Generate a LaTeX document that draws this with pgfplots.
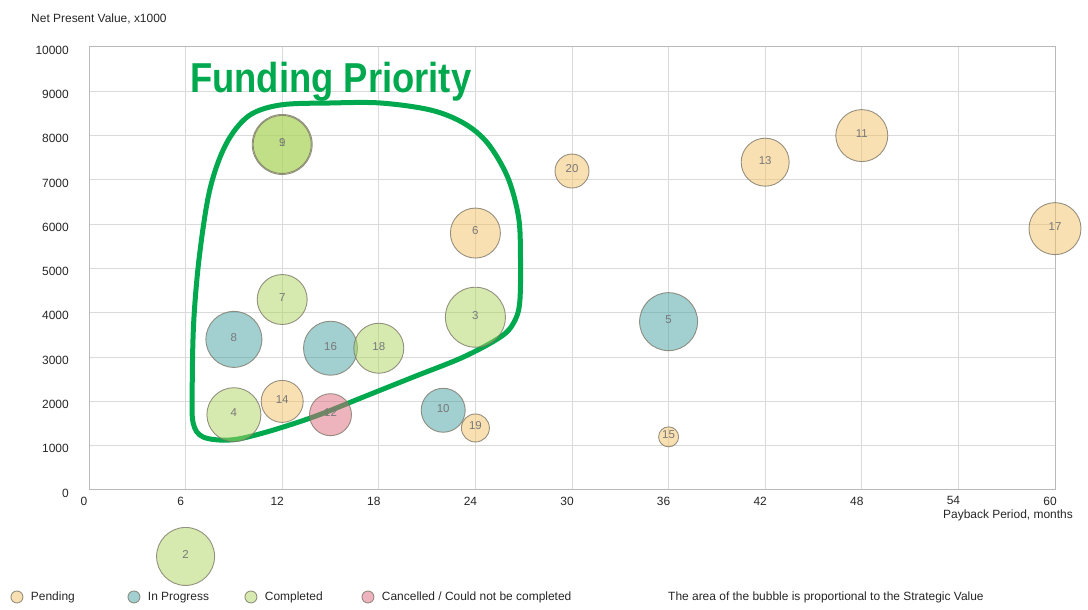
\documentclass[border=0pt]{standalone}
\usepackage{pgfplots}
\pgfplotsset{compat=1.18}
\usepackage{graphicx}
\usepackage{fontspec}
\setmainfont{Liberation Sans}

\definecolor{pendingC}{RGB}{243,193,101}
\definecolor{progressC}{RGB}{69,159,161}
\definecolor{completedC}{RGB}{173,213,95}
\definecolor{cancelledC}{RGB}{221,105,125}
\definecolor{edgeC}{RGB}{125,120,105}
\definecolor{gridC}{RGB}{218,218,218}
\definecolor{numC}{RGB}{120,120,120}
\definecolor{fundC}{RGB}{0,168,78}

% One bubble per project: (payback months, NPV x1000) [project number];
% the mark size (radius) encodes the strategic value.
\pgfplotsset{
  bubble/.style={
    only marks, mark=*, forget plot,
    mark options={draw=edgeC, draw opacity=0.8, line width=0.9bp, fill=#1, fill opacity=0.5},
    point meta=explicit symbolic,
    nodes near coords,
    every node near coord/.append style={anchor=center, inner sep=0pt,
      font=\fontsize{11.5}{12}\selectfont, text=numC, text opacity=1, yshift=2bp},
  },
  pending/.style={bubble=pendingC},
  inprogress/.style={bubble=progressC},
  completed/.style={bubble=completedC},
  cancelled/.style={bubble=cancelledC},
  legendbubble/.style={only marks, mark=*, mark size=6bp,
    mark options={draw=edgeC, draw opacity=0.8, line width=0.9bp, fill=#1, fill opacity=0.5}},
}

\begin{document}
\begin{tikzpicture}
\path[use as bounding box] (0bp,0bp) rectangle (1088bp,610bp);
\begin{axis}[
  at={(89bp,120bp)}, anchor=south west,
  scale only axis, width=966bp, height=443bp,
  xmin=0, xmax=60, ymin=0, ymax=10000,
  xtick={0,6,...,60}, ytick={0,1000,...,10000},
  grid=major, major grid style={gridC, line width=1bp},
  axis line style={gridC!85!black, line width=1bp},
  major tick length=0pt,
  tick label style={font=\fontsize{12}{14}\selectfont, text=black!85},
  /pgf/number format/assume math mode=true,
  /pgf/number format/1000 sep={},
  scaled ticks=false,
  xticklabel style={anchor=north, inner sep=0pt, yshift=-6.5bp, xshift=-5bp},
  yticklabel style={anchor=east, inner sep=0pt, xshift=-20bp, yshift=-3bp},
  clip=false,
  xlabel={Payback Period, months},
  ylabel={Net Present Value, x1000},
  every axis x label/.style={at={(axis description cs:1.0186,-0.0564)}, anchor=east,
    inner sep=0pt, font=\fontsize{12}{14}\selectfont, text=black!85},
  every axis y label/.style={at={(axis description cs:-0.060,1.0632)}, anchor=west,
    inner sep=0pt, font=\fontsize{12}{14}\selectfont, text=black!85},
  legend columns=4,
  legend cell align=left,
  legend image code/.code={\draw[#1] plot coordinates {(0bp,0bp)};},
  legend style={at={(axis description cs:-0.0808,-0.2415)}, anchor=west,
    draw=none, fill=none, inner sep=0pt, outer sep=0pt,
    nodes={inner sep=0pt, font=\fontsize{12}{14}\selectfont, text=black!85},
    /tikz/every odd column/.append style={column sep=8bp},
    /tikz/every even column/.append style={column sep=8bp}},
]
% Pending
\addplot[pending, mark size=25bp] coordinates {(24,5800) [6]};
\addplot[pending, mark size=26bp] coordinates {(48,8000) [11]};
\addplot[pending, mark size=24bp] coordinates {(42,7400) [13]};
\addplot[pending, mark size=21bp] coordinates {(12,2000) [14]};
\addplot[pending, mark size=10bp] coordinates {(36,1200) [15]};
\addplot[pending, mark size=26bp] coordinates {(60,5900) [17]};
\addplot[pending, mark size=14bp] coordinates {(24,1400) [19]};
\addplot[pending, mark size=17bp] coordinates {(30,7200) [20]};
% In Progress
\addplot[inprogress, mark size=29bp] coordinates {(36,3800) [5]};
\addplot[inprogress, mark size=28bp] coordinates {(9,3400) [8]};
\addplot[inprogress, mark size=22bp] coordinates {(22,1800) [10]};
\addplot[inprogress, mark size=27bp] coordinates {(15,3200) [16]};
% Completed
\addplot[completed, mark size=30bp] coordinates {(12,7800) [1]};
\addplot[completed, mark size=29bp] coordinates {(6,-1500) [2]};
\addplot[completed, mark size=30bp] coordinates {(24,3900) [3]};
\addplot[completed, mark size=27bp] coordinates {(9,1700) [4]};
\addplot[completed, mark size=25bp] coordinates {(12,4300) [7]};
\addplot[completed, mark size=29bp] coordinates {(12,7800) [9]};
\addplot[completed, mark size=25bp] coordinates {(18,3200) [18]};
% Cancelled / could not be completed
\addplot[cancelled, mark size=21bp] coordinates {(15,1700) [12]};

\addlegendimage{legendbubble=pendingC}
\addlegendentry{\makebox[89bp][l]{Pending}}
\addlegendimage{legendbubble=progressC}
\addlegendentry{\makebox[89bp][l]{In Progress}}
\addlegendimage{legendbubble=completedC}
\addlegendentry{\makebox[89bp][l]{Completed}}
\addlegendimage{legendbubble=cancelledC}
\addlegendentry{Cancelled / Could not be completed}

% hand-drawn outline around the priority projects
\draw[fundC, line width=5bp] plot[smooth cycle, tension=0.55] coordinates {
  (11.88,8691) (14.99,8736) (18.10,8736) (21.21,8578) (23.26,8284)
  (24.75,7833) (26.00,7065) (26.68,6163) (26.80,5260) (26.75,4221)
  (26.37,3770) (25.56,3454) (23.26,3002) (20.15,2551) (17.04,2099)
  (13.93,1648) (10.82,1287) (8.77,1129) (7.09,1196) (6.47,1512)
  (6.41,2257) (6.50,3770) (6.85,5260) (7.50,6772) (8.50,7800) (9.90,8440)};
\end{axis}

\node[anchor=base west, inner sep=0pt, text=fundC] at (190bp,517bp)
  {\scalebox{0.87}[1]{\fontsize{42}{42}\selectfont\bfseries Funding Priority}};
\node[anchor=west, inner sep=0pt, font=\fontsize{12}{14}\selectfont, text=black!85] at (668bp,13bp)
  {The area of the bubble is proportional to the Strategic Value};
\end{tikzpicture}
\end{document}
